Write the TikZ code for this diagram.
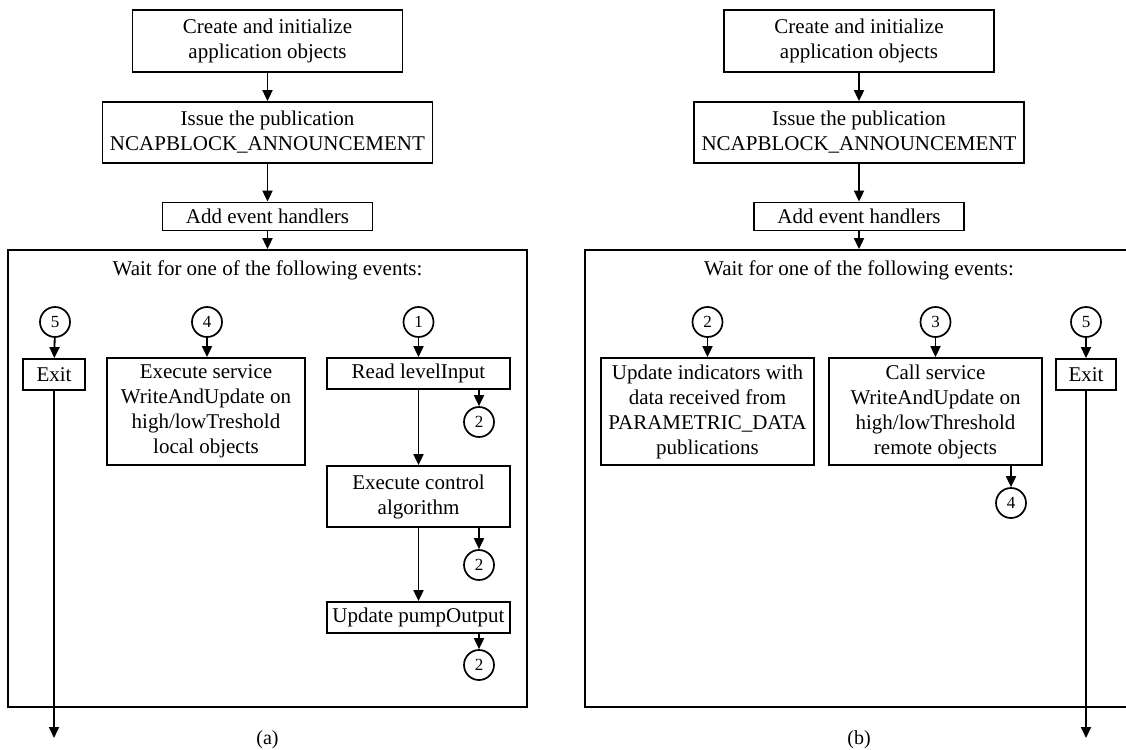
\documentclass[tikz,border=0pt]{standalone}
\usepackage{fontspec}
\setmainfont{Liberation Serif}
\usepackage{tikz}
\usetikzlibrary{calc,shapes,arrows.meta}

\begin{document}
\begin{tikzpicture}[x=1pt,y=-1pt,
        box/.style={draw,line width=1.8pt,align=center,inner sep=1pt,
            font=\fontsize{21}{25}\selectfont},
        event/.style={draw,circle,line width=1.7pt,minimum size=30pt,inner sep=0pt,
            font=\fontsize{17}{17}\selectfont},
        frm/.style={draw,line width=1.8pt,inner sep=0pt},
        arr/.style={line width=1.8pt,-{Triangle[length=11pt,width=10pt]}}]
        \useasboundingbox (0,0) rectangle (1126,749);
        % (a)
        \node[box,minimum width=270pt,minimum height=62pt] (createA) at (267.5,41) {Create and initialize\\application objects};
        \node[box,minimum width=330pt,minimum height=61pt] (issueA) at (267.5,132.5) {Issue the publication\\NCAPBLOCK\_ANNOUNCEMENT};
        \node[box,minimum width=210pt,minimum height=28pt] (addA) at (267.5,216.5) {Add event handlers};
        \node[frm,minimum width=519pt,minimum height=457pt] (frameA) at (267.5,478.5) {};
        \node[font=\fontsize{21}{25}\selectfont] (waitA) at (267.5,270) {Wait for one of the following events:};
        \draw[arr] (createA) -- (issueA);
        \draw[arr] (issueA) -- (addA);
        \draw[arr] (addA) -- (frameA.north);
        \node[event] (e5A) at (55,322) {5};
        \node[box,minimum width=62pt,minimum height=31pt] (exitA) at (54,374.5) {Exit};
        \node[event] (e4A) at (207,322) {4};
        \node[box,minimum width=198pt,minimum height=107pt] (writeA) at (206,411.5) {Execute service\\WriteAndUpdate on\\high/lowTreshold\\local objects};
        \node[event] (e1A) at (418.5,322) {1};
        \node[box,minimum width=183pt,minimum height=31pt] (readA) at (418.5,373.5) {Read levelInput};
        \node[event] (e2A) at (479,422) {2};
        \node[box,minimum width=183pt,minimum height=61pt] (ctrlA) at (418.5,496.5) {Execute control\\algorithm};
        \node[event] (e2B) at (479,565) {2};
        \node[box,minimum width=183pt,minimum height=31pt] (pumpA) at (418.5,617.5) {Update pumpOutput};
        \node[event] (e2C) at (479,665) {2};
        \coordinate (endA) at (54,738);
        \draw[arr] (e5A) -- (exitA);
        \draw[arr] (exitA) -- (endA);
        \draw[arr] (e4A) -- (e4A |- writeA.north);
        \draw[arr] (e1A) -- (readA);
        \draw[arr] (readA) -- (ctrlA);
        \draw[arr] (ctrlA) -- (pumpA);
        \draw[arr] (e2A |- readA.south) -- (e2A);
        \draw[arr] (e2B |- ctrlA.south) -- (e2B);
        \draw[arr] (e2C |- pumpA.south) -- (e2C);
        \node[font=\fontsize{20}{20}\selectfont] (capA) at (267.5,740) {(a)};
        % (b)
        \node[box,minimum width=270pt,minimum height=62pt] (createB) at (859,41) {Create and initialize\\application objects};
        \node[box,minimum width=330pt,minimum height=61pt] (issueB) at (859,132.5) {Issue the publication\\NCAPBLOCK\_ANNOUNCEMENT};
        \node[box,minimum width=210pt,minimum height=28pt] (addB) at (859,216.5) {Add event handlers};
        \node[frm,minimum width=548pt,minimum height=457pt] (frameB) at (859,478.5) {};
        \node[font=\fontsize{21}{25}\selectfont] (waitB) at (859,270) {Wait for one of the following events:};
        \draw[arr] (createB) -- (issueB);
        \draw[arr] (issueB) -- (addB);
        \draw[arr] (addB) -- (frameB.north);
        \node[event] (e2R) at (707.5,322) {2};
        \node[box,minimum width=213pt,minimum height=107pt] (updB) at (707.5,411.5) {Update indicators with\\data received from\\PARAMETRIC\_DATA\\publications};
        \node[event] (e3R) at (935.5,322) {3};
        \node[box,minimum width=213pt,minimum height=107pt] (callB) at (935.5,411.5) {Call service\\WriteAndUpdate on\\high/lowThreshold\\remote objects};
        \node[event] (e5R) at (1086,322) {5};
        \node[box,minimum width=60pt,minimum height=31pt] (exitB) at (1086,374.5) {Exit};
        \node[event] (e4R) at (1011,503) {4};
        \coordinate (endB) at (1086,738);
        \draw[arr] (e2R) -- (updB);
        \draw[arr] (e3R) -- (callB);
        \draw[arr] (e5R) -- (exitB);
        \draw[arr] (exitB) -- (endB);
        \draw[arr] (e4R |- callB.south) -- (e4R);
        \node[font=\fontsize{20}{20}\selectfont] (capB) at (859,740) {(b)};
    \end{tikzpicture}
\end{document}
